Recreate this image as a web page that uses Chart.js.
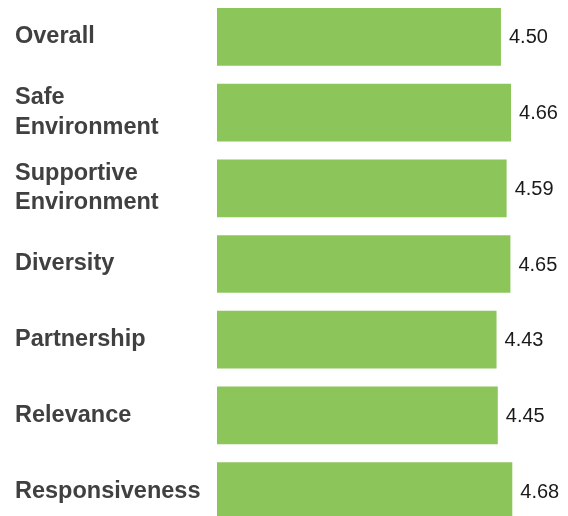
<!DOCTYPE html>
<html>
<head>
<meta charset="utf-8">
<script src="https://cdn.jsdelivr.net/npm/chart.js@4/dist/chart.umd.min.js"></script>
<style>
  html, body { margin: 0; padding: 0; background: #ffffff; overflow: hidden; width: 568px; height: 516px; }
  #wrap { position: absolute; left: 0; top: -1px; width: 568px; height: 530px; }
</style>
</head>
<body>
<div id="wrap"><canvas id="c" width="568" height="530"></canvas></div>
<script>
const categories = [
  'Overall',
  ['Safe', 'Environment'],
  ['Supportive', 'Environment'],
  'Diversity',
  'Partnership',
  'Relevance',
  'Responsiveness'
];
const scores = [4.50, 4.66, 4.59, 4.65, 4.43, 4.45, 4.68];
const scaleMin = 0;
const scaleMax = 5;

const valueLabels = {
  id: 'valueLabels',
  afterDatasetsDraw(chart) {
    const ctx = chart.ctx;
    const meta = chart.getDatasetMeta(0);
    ctx.save();
    ctx.font = '20px Arial, "Liberation Sans", sans-serif';
    ctx.fillStyle = '#1a1a1a';
    ctx.textAlign = 'left';
    ctx.textBaseline = 'middle';
    meta.data.forEach((bar, i) => {
      ctx.fillText(scores[i].toFixed(2), bar.x + 8, bar.y + 1);
    });
    ctx.restore();
  }
};

new Chart(document.getElementById('c'), {
  type: 'bar',
  data: {
    labels: categories,
    datasets: [{
      data: scores,
      backgroundColor: '#8CC65A',
      borderWidth: 0,
      categoryPercentage: 1.0,
      barPercentage: 0.762
    }]
  },
  options: {
    indexAxis: 'y',
    responsive: false,
    animation: false,
    devicePixelRatio: 1,
    layout: { padding: { left: 15, right: 35.5, top: 0, bottom: 0 } },
    plugins: { legend: { display: false }, tooltip: { enabled: false } },
    scales: {
      x: { display: false, min: scaleMin, max: scaleMax },
      y: {
        afterFit(scale) { scale.width = 202; scale.paddingTop = 0; scale.paddingBottom = 0; },
        grid: { display: false, drawTicks: false },
        border: { display: false },
        ticks: {
          crossAlign: 'far',
          padding: 0,
          color: '#404040',
          font: { family: 'Arial, "Liberation Sans", sans-serif', size: 23.5, weight: 'bold', lineHeight: 1.24 }
        }
      }
    }
  },
  plugins: [valueLabels]
});
</script>
</body>
</html>
